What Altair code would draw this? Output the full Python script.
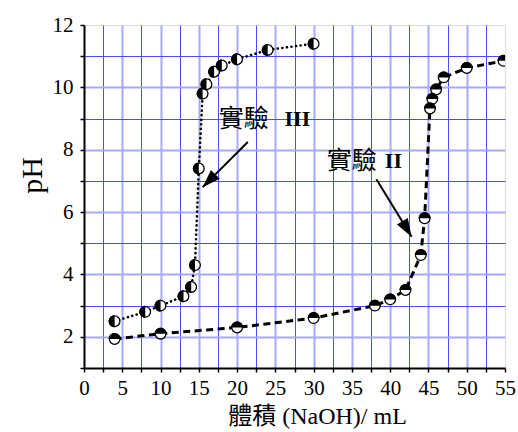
import altair as alt
import pandas as pd

# ---------------- data ----------------
# Experiment III (dotted curve, left-half filled markers)
x3 = [4, 8, 10, 13, 14, 14.5, 15, 15.5, 16, 17, 18, 20, 24, 30]
y3 = [2.5, 2.8, 3.0, 3.3, 3.6, 4.3, 7.4, 9.8, 10.1, 10.5, 10.7, 10.9, 11.2, 11.4]

# Experiment II (dashed curve, top-half filled markers)
x2 = [4, 10, 20, 30, 38, 40, 42, 44, 44.5, 45.2, 45.5, 46, 47, 50, 54.8]
y2 = [1.93, 2.1, 2.3, 2.6, 3.0, 3.2, 3.5, 4.62, 5.8, 9.32, 9.63, 9.93, 10.32, 10.62, 10.85]

# annotations
ann_cjk = ["實驗", "實驗"]
ann_roman = ["III", "II"]
ann_x_cjk = [17.6, 31.7]
ann_x_roman = [26.2, 39.3]
ann_y = [9.0, 7.64]
arrow_x0 = [21.4, 38.2]
arrow_y0 = [8.25, 7.05]
arrow_x1 = [15.5, 42.8]
arrow_y1 = [6.8, 5.21]
arrow_angle = [225, 149]

x_ticks = [0, 2.5, 5, 7.5, 10, 12.5, 15, 17.5, 20, 22.5, 25, 27.5, 30, 32.5,
           35, 37.5, 40, 42.5, 45, 47.5, 50, 52.5, 55]
y_ticks = [1, 2, 3, 4, 5, 6, 7, 8, 9, 10, 11, 12]

df3 = pd.DataFrame({"x": x3, "y": y3})
df2 = pd.DataFrame({"x": x2, "y": y2})
df_ann = pd.DataFrame({"xc": ann_x_cjk, "xr": ann_x_roman, "y": ann_y,
                       "cjk": ann_cjk, "roman": ann_roman})
df_arr = pd.DataFrame({"x": arrow_x0, "y": arrow_y0, "x1": arrow_x1,
                       "y1": arrow_y1, "ang": arrow_angle})

MAJOR = "#a8a8ff"
MINOR = "#4c4cff"
SERIF = "Liberation Serif, Times New Roman, serif"
MIXED = "Liberation Serif, Noto Sans CJK TC, serif"
CJK = "Noto Sans CJK TC"

x_scale = alt.Scale(domain=[0, 55], nice=False, zero=False)
y_scale = alt.Scale(domain=[1, 12], nice=False, zero=False)

x_axis = alt.Axis(
    values=x_ticks, format="d",
    labelExpr="datum.value % 5 === 0 ? datum.label : ''",
    grid=True,
    gridColor={"condition": {"test": "datum.value % 5 === 0", "value": MAJOR}, "value": MINOR},
    gridWidth={"condition": {"test": "datum.value % 5 === 0", "value": 2}, "value": 1},
    gridOpacity={"condition": {"test": "datum.value === 0 || datum.value === 55", "value": 0}, "value": 1},
    domainColor="black", domainWidth=2,
    tickColor="black", tickWidth=1.5, tickSize=4,
    labelFont=SERIF, labelFontSize=21, labelColor="black", labelPadding=5,
    labelFlush=False, labelOverlap=False,
    title="體積 (NaOH)/ mL", titleFont=MIXED, titleFontSize=24,
    titleFontWeight="normal", titleColor="black",
    titleX=233, titleY=55, titleAlign="center", titleBaseline="alphabetic",
)
y_axis = alt.Axis(
    values=y_ticks, format="d",
    labelExpr="datum.value % 2 === 0 ? datum.label : ''",
    grid=True,
    gridColor={"condition": {"test": "datum.value % 2 === 0", "value": MAJOR}, "value": MINOR},
    gridWidth={"condition": {"test": "datum.value % 2 === 0", "value": 2}, "value": 1},
    gridOpacity={"condition": {"test": "datum.value === 1 || datum.value === 12", "value": 0}, "value": 1},
    domainColor="black", domainWidth=2,
    tickColor="black", tickWidth=1.5, tickSize=4,
    labelFont=SERIF, labelFontSize=21, labelColor="black", labelPadding=7,
    labelOverlap=False,
    title="pH", titleFont=SERIF, titleFontSize=30, titleFontWeight="normal",
    titleColor="black", titleAngle=270, titleX=-52, titleY=150,
    titleAlign="center", titleBaseline="middle",
)


def X(field):
    return alt.X(f"{field}:Q", scale=x_scale, axis=x_axis)


def Y(field):
    return alt.Y(f"{field}:Q", scale=y_scale, axis=y_axis)


D = 12
CIRCLE_SIZE = 3.14159 * (D / 2) ** 2
HALF_SIZE = D * D
LEFT_HALF = "M 0 -1 A 1 1 0 0 0 0 1 Z"
TOP_HALF = "M -1 0 A 1 1 0 0 1 1 0 Z"
ARROW = "M 0 0 L 0.7 2 L -0.7 2 Z"

line3 = alt.Chart(df3).mark_line(
    color="black", strokeWidth=2.6, strokeDash=[0.1, 4.5], strokeCap="round", clip=True
).encode(x=X("x"), y=Y("y"))
line2 = alt.Chart(df2).mark_line(
    color="black", strokeWidth=3, strokeDash=[7, 4.5], clip=True
).encode(x=X("x"), y=Y("y"))


def markers(df, half):
    base = alt.Chart(df).encode(x=X("x"), y=Y("y"))
    bg = base.mark_point(shape="circle", filled=True, fill="white", size=CIRCLE_SIZE,
                         opacity=1, strokeWidth=0, clip=True)
    hf = base.mark_point(shape=half, filled=True, fill="black", size=HALF_SIZE,
                         opacity=1, strokeWidth=0, clip=True)
    ol = base.mark_point(shape="circle", filled=False, stroke="black", size=CIRCLE_SIZE,
                         opacity=1, strokeWidth=1.3, clip=True)
    return [bg, hf, ol]


arrow_shaft = alt.Chart(df_arr).mark_rule(color="black", strokeWidth=2).encode(
    x=X("x"), y=Y("y"), x2="x1:Q", y2="y1:Q")
arrow_head = alt.Chart(df_arr).mark_point(
    shape=ARROW, filled=True, fill="black", opacity=1, size=324, strokeWidth=0
).encode(x=X("x1"), y=Y("y1"), angle=alt.Angle("ang:Q", scale=None))

txt_cjk = alt.Chart(df_ann).mark_text(
    align="left", baseline="middle", font=CJK, fontSize=25, color="black"
).encode(x=X("xc"), y=Y("y"), text="cjk:N")
txt_rom = alt.Chart(df_ann).mark_text(
    align="left", baseline="middle", font=SERIF, fontSize=22, fontWeight="bold", color="black"
).encode(x=X("xr"), y=Y("y"), text="roman:N")

layers = [line3, line2] + markers(df3, LEFT_HALF) + markers(df2, TOP_HALF) + \
    [arrow_shaft, arrow_head, txt_cjk, txt_rom]

chart = alt.layer(*layers).properties(
    width=421, height=343,
    autosize=alt.AutoSizeParams(type="none"),
    padding={"left": 84, "top": 25, "right": 13, "bottom": 64},
).configure_view(stroke="#a0a0a0", strokeWidth=1.5).configure(background="white")

chart.save("out.html", embed_options={"renderer": "svg", "actions": False})
